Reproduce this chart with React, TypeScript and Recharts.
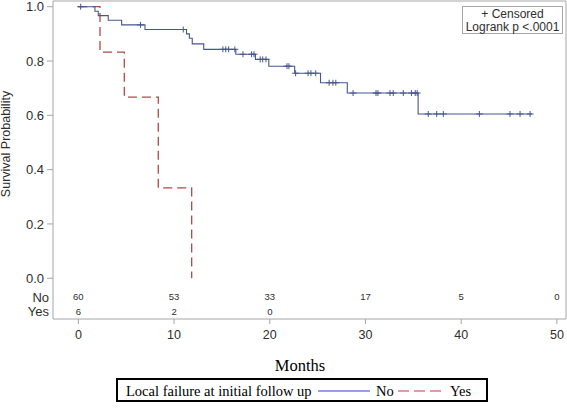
import React from 'react'
import { ComposedChart, Line, Scatter, XAxis, YAxis, ReferenceArea } from 'recharts'

// Kaplan-Meier steps (months, survival)
const noTimes = [0, 1.73, 2.08, 3.12, 4.52, 6.96, 11.3, 11.6, 11.9, 13.1, 16.45, 18.5, 19.9, 22.6, 25.3, 28.1, 35.5, 47.4]
const noSurv = [1, 0.983, 0.967, 0.95, 0.933, 0.916, 0.9, 0.884, 0.863, 0.843, 0.825, 0.806, 0.781, 0.755, 0.72, 0.682, 0.605, 0.605]
const yesTimes = [0, 2.26, 4.8, 8.35, 11.84]
const yesSurv = [1, 0.833, 0.667, 0.333, 0]

// censored times (No group)
const noCensored = [
  0.24, 6.5, 10.96, 15.1, 15.4, 15.7, 16.35, 17.2, 18.1, 18.35, 19.0, 19.26, 19.6,
  21.8, 22.0, 22.7, 24.0, 24.3, 24.8, 26.2, 26.6, 26.9, 28.7, 31.1, 31.3, 32.56, 32.9,
  33.95, 34.8, 35.2, 35.4, 36.56, 37.44, 38.13, 41.9, 45.1, 46.15, 47.2,
]

const monthTicks = [0, 10, 20, 30, 40, 50]
const probTicks = [0, 0.2, 0.4, 0.6, 0.8, 1.0]
const atRiskNo = [60, 53, 33, 17, 5, 0]
const atRiskYes = [6, 2, 0]

const BLUE = '#46578f'
const RED = '#b04a45'
const AXIS = '#a6a6a6'
const TXT = '#2e2e2e'
const SANS = '"Liberation Sans", Arial, sans-serif'
const SERIF = '"Liberation Serif", "Times New Roman", serif'

// layout: the at-risk table sits inside the frame, below 0
const X_DOMAIN: [number, number] = [-2.65, 50.95]
const Y_DOMAIN: [number, number] = [-0.15, 1.021]
const ROW_NO = -0.069
const ROW_YES = -0.123

const noData = noTimes.map((t, i) => ({ t, s: noSurv[i] }))
const yesData = yesTimes.map((t, i) => ({ t, s: yesSurv[i] }))
const survAt = (t: number) => {
  let s = noSurv[0]
  noTimes.forEach((tt, i) => { if (tt <= t) s = noSurv[i] })
  return s
}
const censorData = noCensored.map(t => ({ t, s: survAt(t) }))
const riskNoData = atRiskNo.map((n, i) => ({ t: monthTicks[i], s: ROW_NO, n }))
const riskYesData = atRiskYes.map((n, i) => ({ t: monthTicks[i], s: ROW_YES, n }))

const Plus = (props: any) => {
  const { cx, cy } = props
  return <path d={`M${cx - 3.5},${cy}H${cx + 3.5}M${cx},${cy - 3}V${cy + 3}`} stroke={BLUE} strokeWidth={1} fill="none" />
}

const RiskText = (props: any) => {
  const { cx, cy, payload } = props
  return <text x={cx} y={cy} dy="0.35em" textAnchor="middle" fontSize={9.5} fill={TXT}>{payload.n}</text>
}

const YTick = (props: any) => {
  const { x, y, payload } = props
  const v = payload.value
  if (v < 0) {
    return <text x={x + 5} y={y} dy="0.36em" textAnchor="end" fontSize={13} fill={TXT}>{v === ROW_NO ? 'No' : 'Yes'}</text>
  }
  return (
    <g>
      <line x1={x + 3} x2={x + 9} y1={y} y2={y} stroke={AXIS} />
      <text x={x} y={y} dy="0.36em" textAnchor="end" fontSize={13} fill={TXT}>{v.toFixed(1)}</text>
    </g>
  )
}

export default function App() {
  return (
    <div style={{ position: 'absolute', left: 0, top: 0, width: 567, height: 409, background: '#fff', fontFamily: SANS }}>
      <ComposedChart width={567} height={409} margin={{ top: 1, right: 1, bottom: 0, left: 0 }}>
        <XAxis dataKey="t" type="number" domain={X_DOMAIN} ticks={monthTicks} allowDataOverflow
          axisLine={false} tickLine={{ stroke: AXIS }} tickSize={5} tickMargin={6} height={90}
          tick={{ fill: TXT, fontSize: 12.5 }} interval={0}
          label={{ content: () => <text x={300} y={365} dy="0.35em" textAnchor="middle" fontFamily={SERIF} fontSize={16.5} fill="#000">Months</text> }} />
        <YAxis type="number" domain={Y_DOMAIN} ticks={[ROW_YES, ROW_NO, ...probTicks]} allowDataOverflow
          axisLine={false} tickLine={false} tickSize={6} tickMargin={3} width={53} interval={0}
          tick={<YTick />}
          label={{ content: () => <text x={10} y={144} transform="rotate(-90 10 144)" textAnchor="middle" fontSize={12.5} fill={TXT}>Survival Probability</text> }} />
        <ReferenceArea x1={X_DOMAIN[0]} x2={X_DOMAIN[1]} y1={Y_DOMAIN[0]} y2={Y_DOMAIN[1]} ifOverflow="visible" fill="none" stroke={AXIS} />
        <Line data={yesData} dataKey="s" type="stepAfter" stroke={RED} strokeWidth={1.3} strokeDasharray="9 5" dot={false} activeDot={false} isAnimationActive={false} />
        <Line data={noData} dataKey="s" type="stepAfter" stroke={BLUE} strokeWidth={1.1} dot={false} activeDot={false} isAnimationActive={false} />
        <Scatter data={censorData} dataKey="s" shape={<Plus />} isAnimationActive={false} />
        <Scatter data={riskNoData} dataKey="s" shape={<RiskText />} isAnimationActive={false} />
        <Scatter data={riskYesData} dataKey="s" shape={<RiskText />} isAnimationActive={false} />
      </ComposedChart>

      <div style={{ position: 'absolute', left: 462, top: 6, width: 101, height: 28, boxSizing: 'border-box', border: `1px solid ${AXIS}`, background: '#fff', fontSize: 12, color: TXT, textAlign: 'center', lineHeight: '13px', paddingTop: 1 }}>
        <div>+ Censored</div>
        <div>Logrank p &lt;.0001</div>
      </div>

      <div style={{ position: 'absolute', left: 116, top: 378, width: 372, height: 24, boxSizing: 'border-box', border: '2px solid #000', fontFamily: SERIF, fontSize: 14.5, lineHeight: '16px', color: '#000' }}>
        <span style={{ position: 'absolute', left: 8, top: 3 }}>Local failure at initial follow up</span>
        <svg style={{ position: 'absolute', left: 200, top: 0 }} width={54} height={20}>
          <line x1={0} x2={52} y1={11} y2={11} stroke="#3a3ad0" strokeWidth={1.2} />
        </svg>
        <span style={{ position: 'absolute', left: 258, top: 3 }}>No</span>
        <svg style={{ position: 'absolute', left: 280, top: 0 }} width={50} height={20}>
          <line x1={0} x2={48} y1={11} y2={11} stroke="#d83048" strokeWidth={1.2} strokeDasharray="11 5" />
        </svg>
        <span style={{ position: 'absolute', left: 332, top: 3 }}>Yes</span>
      </div>
    </div>
  )
}
